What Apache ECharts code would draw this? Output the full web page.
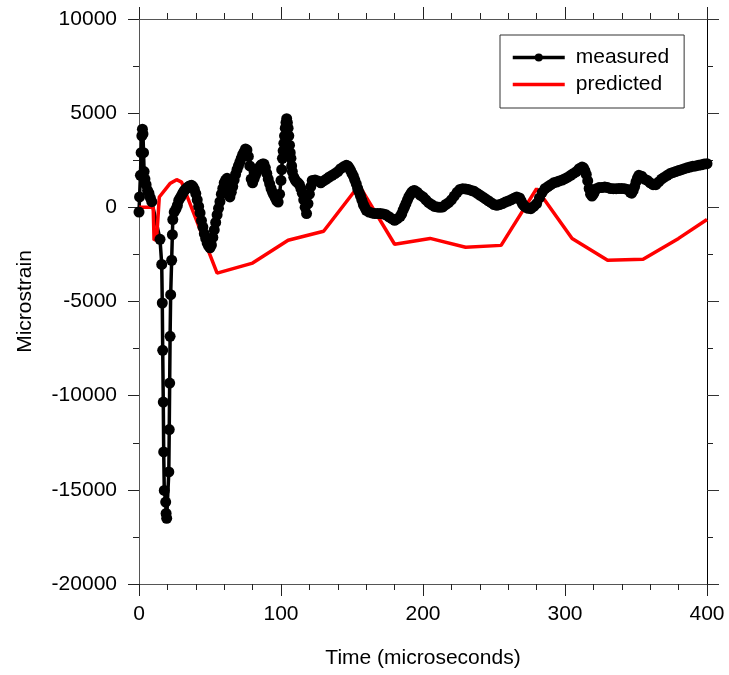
<!DOCTYPE html>
<html>
<head>
<meta charset="utf-8">
<script src="https://cdn.jsdelivr.net/npm/echarts@6/dist/echarts.min.js"></script>
<style>
  html, body { margin: 0; padding: 0; background: #ffffff; }
  #chart { width: 729px; height: 675px; }
</style>
</head>
<body>
<div id="chart"></div>
<script>
// Strain gauge record (microstrain) against time (microseconds)
const measuredTime = [
  0, 0.4, 1.0, 1.5, 2.0, 2.4, 2.8, 3.2, 3.6, 4.2, 5, 6, 7, 8, 9,
  14.8, 16.0, 16.4, 16.7, 17.1, 17.4, 17.8, 18.8, 19.1, 19.5,
  21.0, 21.3, 21.6, 21.9, 22.3, 23.0, 23.5, 23.8, 24.8,
  26, 27, 28, 29, 30, 31, 32, 33, 34, 35, 36, 37, 38, 39, 40, 41, 42, 43, 44, 45,
  46, 47, 48, 49, 50, 51, 52, 53, 54, 55, 56, 57, 58, 59, 60, 61, 62, 63, 64, 65,
  66, 67, 68, 69, 70, 71, 72, 73, 74, 75, 76, 77, 78, 79, 80, 81, 82, 83, 84, 85,
  86, 87, 88, 89, 90, 91, 92, 93, 94, 95, 96, 97, 98, 99, 100, 100.5, 101, 101.5,
  102, 102.5, 103, 103.5, 104, 104.5, 105, 105.5, 106, 106.5, 107, 107.5, 108,
  109, 110, 111, 112, 113, 114, 115, 116, 117, 118, 119, 120, 121, 122,
  124, 126, 128, 130, 132, 134, 136, 138, 140, 142, 144, 146, 147, 148, 149, 150,
  151, 152, 153, 154, 155, 156, 157, 158, 159, 160, 162, 164, 166, 168, 170, 172,
  174, 176, 178, 180, 182, 184, 185, 186, 187, 188, 189, 190, 191, 192, 193, 194,
  196, 198, 200, 202, 204, 206, 208, 210, 212, 214, 216, 218, 220, 222, 224, 226,
  228, 230, 232, 234, 236, 238, 240, 242, 244, 246, 248, 250, 252, 254, 256, 258,
  260, 262, 264, 266, 268, 269, 270, 271, 272, 274, 276, 278, 280, 282, 284, 286,
  288, 290, 292, 294, 296, 298, 300, 302, 304, 306, 308, 310, 312, 313, 314, 315,
  316, 317, 318, 319, 320, 321, 322, 324, 326, 328, 330, 332, 334, 336, 338, 340,
  342, 344, 346, 347, 348, 349, 350, 351, 352, 354, 356, 358, 360, 362, 364, 366,
  368, 370, 372, 374, 376, 378, 380, 382, 384, 386, 388, 390, 392, 394, 396, 398, 400
];
const measuredStrain = [
  -250, 550, 1700, 2900, 3800, 4150, 3900, 2900, 1900, 1500, 1200, 900, 750, 500, 300,
  -1700, -3030, -5080, -7590, -10340, -12990, -15030, -15650, -16250, -16510,
  -14050, -11800, -9330, -6850, -4640, -2810, -1450, -650, -250,
  -100, 100, 370, 500, 640, 780, 900, 980, 1050, 1100, 1150, 1170, 1100, 950, 730, 400, 50, -300, -700, -1050,
  -1400, -1650, -1900, -2050, -2150, -2000, -1600, -1200, -800, -400, -50, 300, 700, 1000, 1300, 1450, 1540, 900, 550, 800,
  1100, 1450, 1750, 2000, 2200, 2400, 2600, 2800, 2950, 3100, 3050, 2700, 2200, 1500, 1300, 1500, 1700, 1900, 2050, 2150,
  2250, 2300, 2300, 2100, 1800, 1500, 1250, 1000, 800, 650, 500, 350, 280, 700, 1430, 2000, 2600, 3000,
  3400, 3800, 4200, 4500, 4710, 4500, 4200, 3800, 3300, 2900, 2600, 2200, 1900,
  1600, 1450, 1350, 1300, 1200, 1000, 750, 400, 0, -330, 200, 700, 1100, 1430,
  1450, 1400, 1300, 1400, 1500, 1610, 1700, 1790, 1900, 2050, 2150, 2230, 2200, 2100, 1960, 1800,
  1650, 1450, 1250, 1000, 800, 600, 370, 150, 0, -160, -250, -300, -330, -330, -330, -350,
  -400, -500, -600, -690, -600, -480, -350, -150, 20, 200, 380, 550, 680, 800, 870, 900,
  800, 650, 550, 400, 250, 150, 50, 20, 0, 20, 150, 250, 400, 600, 800, 950,
  990, 980, 950, 900, 850, 750, 650, 550, 450, 350, 250, 150, 110, 150, 200, 280,
  330, 400, 480, 550, 500, 350, 200, 100, 20, -50, -70, 50, 200, 500, 800, 1000,
  1100, 1200, 1300, 1340, 1400, 1450, 1520, 1600, 1700, 1800, 1900, 2050, 2140, 2100, 1950, 1750,
  1400, 1000, 700, 600, 700, 850, 990, 1050, 1050, 1080, 1050, 1000, 990, 990, 1000, 1000,
  990, 950, 800, 750, 900, 1100, 1350, 1550, 1700, 1650, 1500, 1430, 1300, 1200, 1200, 1350,
  1500, 1600, 1700, 1790, 1850, 1900, 1950, 2000, 2050, 2100, 2140, 2180, 2200, 2230, 2260, 2300, 2320
];

// Model prediction (piecewise linear)
const predictedTime = [0, 10, 10.6, 12.4, 14.3, 21.8, 26.5, 30, 55, 80, 105, 130, 155, 180, 205, 230, 255, 280, 305, 330, 355, 380, 400];
const predictedStrain = [0, 0, -1750, -1660, 550, 1260, 1470, 1340, -3490, -2960, -1750, -1270, 1170, -1960, -1650, -2120, -2020, 990, -1660, -2810, -2760, -1650, -650];

const timeRange = [0, 400];
const timeStep = 100;
const strainRange = [-20000, 10000];
const strainStep = 5000;

const zip = (xs, ys) => xs.map((x, i) => [x, ys[i]]);

const FONT = '"Liberation Sans", Arial, Helvetica, sans-serif';
const TXT = { color: '#000', fontFamily: FONT, fontSize: 21 };

const chart = echarts.init(document.getElementById('chart'), null, { renderer: 'canvas' });

const baseX = {
  type: 'value', min: timeRange[0], max: timeRange[1], interval: timeStep,
  splitLine: { show: false }, minorSplitLine: { show: false },
  minorTick: { show: true, splitNumber: 5, length: 6, lineStyle: { color: '#222', width: 1 } },
  axisTick: { show: true, length: 12, lineStyle: { color: '#222', width: 1 } },
  axisLine: { show: true, onZero: false, lineStyle: { color: '#555', width: 1 } }
};
const baseY = {
  type: 'value', min: strainRange[0], max: strainRange[1], interval: strainStep,
  splitLine: { show: false }, minorSplitLine: { show: false },
  minorTick: { show: true, splitNumber: 2, length: 6, lineStyle: { color: '#222', width: 1 } },
  axisTick: { show: true, length: 11, lineStyle: { color: '#222', width: 1 } },
  axisLine: { show: true, onZero: false, lineStyle: { color: '#555', width: 1 } }
};

chart.setOption({
  animation: false,
  backgroundColor: '#ffffff',
  grid: { left: 139, right: 22, top: 19, bottom: 91, containLabel: false },
  legend: {
    orient: 'vertical', left: 500, top: 35,
    padding: [12, 15, 13, 11], itemGap: 6,
    itemWidth: 52, itemHeight: 10,
    backgroundColor: '#fff', borderColor: '#333', borderWidth: 1, borderRadius: 0,
    selectedMode: false,
    textStyle: Object.assign({ padding: [0, 0, 0, 6] }, TXT),
    data: [
      { name: 'measured', lineStyle: { width: 3.5 } },
      { name: 'predicted', lineStyle: { width: 3.5 }, itemStyle: { opacity: 0 } }
    ]
  },
  xAxis: [
    Object.assign({}, baseX, {
      position: 'bottom',
      axisLabel: Object.assign({ margin: 20, formatter: v => String(v) }, TXT),
      name: 'Time (microseconds)', nameLocation: 'middle', nameGap: 64,
      nameTextStyle: TXT
    }),
    Object.assign({}, baseX, { position: 'top', axisLabel: { show: false } })
  ],
  yAxis: [
    Object.assign({}, baseY, {
      position: 'left',
      axisLabel: Object.assign({ margin: 22, formatter: v => String(v) }, TXT),
      name: 'Microstrain', nameLocation: 'middle', nameGap: 103,
      nameTextStyle: TXT
    }),
    Object.assign({}, baseY, {
      position: 'right', axisLabel: { show: false },
      axisLine: { show: true, onZero: false, lineStyle: { color: '#000', width: 1 } },
      axisTick: { show: true, length: 12, lineStyle: { color: '#333', width: 1 } }
    })
  ],
  series: [
    {
      name: 'measured', type: 'line', xAxisIndex: 0, yAxisIndex: 0,
      data: zip(measuredTime, measuredStrain),
      symbol: 'circle', symbolSize: 11, showSymbol: true, showAllSymbol: true,
      clip: false, silent: true,
      lineStyle: { color: '#000', width: 3.5 },
      itemStyle: { color: '#000', borderWidth: 0 },
      emphasis: { disabled: true }
    },
    {
      name: 'predicted', type: 'line', xAxisIndex: 0, yAxisIndex: 0,
      data: zip(predictedTime, predictedStrain),
      symbol: 'none', silent: true,
      lineStyle: { color: '#ff0000', width: 3.5 },
      itemStyle: { color: '#ff0000' },
      emphasis: { disabled: true }
    }
  ]
});
</script>
</body>
</html>
